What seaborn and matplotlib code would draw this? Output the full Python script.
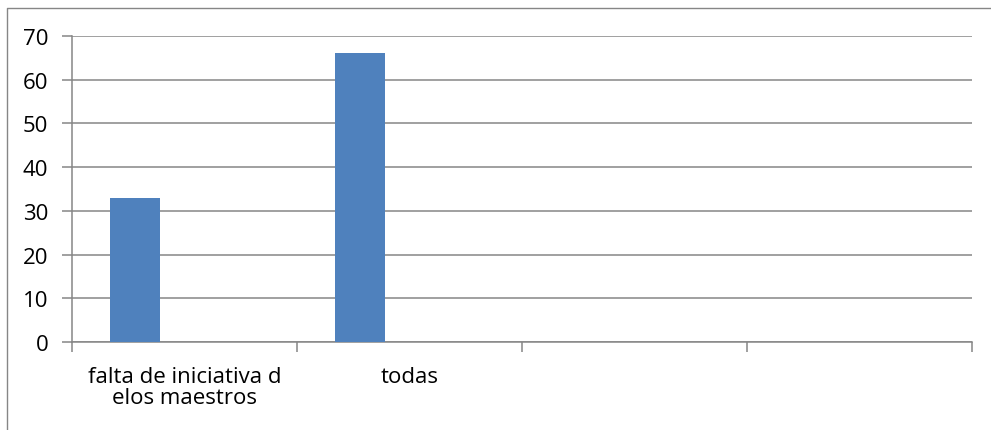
import numpy as np
import pandas as pd
import seaborn as sns
import matplotlib.pyplot as plt
from matplotlib.lines import Line2D

# data
categories = ["cat1", "cat2", "cat3", "cat4"]
category_labels = ["falta de iniciativa d\nelos maestros", "todas", "", ""]
series_names = ["Serie 1", "Serie 2", "Serie 3"]
serie1 = [33, 66, 0, 0]
serie2 = [0, 0, 0, 0]
serie3 = [0, 0, 0, 0]

df = pd.DataFrame({
    "categoria": categories * 3,
    "serie": np.repeat(series_names, len(categories)),
    "valor": serie1 + serie2 + serie3,
})

sns.set_style("white")
plt.rcParams["font.family"] = ["Open Sans", "DejaVu Sans"]

W, H = 991, 431
fig = plt.figure(figsize=(W / 100, H / 100), dpi=100)
ax = fig.add_axes([72 / W, 1 - 343 / H, (972 - 72) / W, (343 - 37) / H])

grey = "#868686"
sns.barplot(data=df, x="categoria", y="valor", hue="serie", order=categories,
            hue_order=series_names, palette=["#4F81BD"] * 3, width=2 / 3,
            saturation=1, dodge=True, linewidth=0, legend=False, ax=ax, zorder=3)

ax.set_xlim(-0.5, len(categories) - 0.5)
ax.set_ylim(0, 70)
ax.set_yticks(range(0, 71, 10))
ax.yaxis.grid(True, color=grey, linewidth=1.1, zorder=0)
ax.set_axisbelow(True)

# category boundaries get the tick marks, labels sit at centres
ax.set_xticks(np.arange(-0.5, len(categories)), [""] * (len(categories) + 1))
ax.set_xticks(np.arange(len(categories)), category_labels, minor=True)
ax.tick_params(axis="x", which="major", bottom=True, length=7, width=1.1,
               color=grey, direction="out")
ax.tick_params(axis="x", which="minor", bottom=True, length=0, pad=17,
               labelsize=16, labelcolor="black")
ax.tick_params(axis="y", left=True, length=7, width=1.1, color=grey,
               direction="out", pad=10, labelsize=16, labelcolor="black")
for t in ax.get_xticklabels(minor=True):
    t.set_linespacing(1.05)

for s in ["top", "right"]:
    ax.spines[s].set_visible(False)
for s in ["left", "bottom"]:
    ax.spines[s].set_color(grey)
    ax.spines[s].set_linewidth(1.1)
ax.set_xlabel("")
ax.set_ylabel("")

# outer chart border (only left and top visible)
fig.add_artist(Line2D([7 / W, 7 / W, 1], [0, 1 - 9 / H, 1 - 9 / H],
                      color=grey, linewidth=1.0, transform=fig.transFigure))

fig.savefig("out.png", dpi=100)
